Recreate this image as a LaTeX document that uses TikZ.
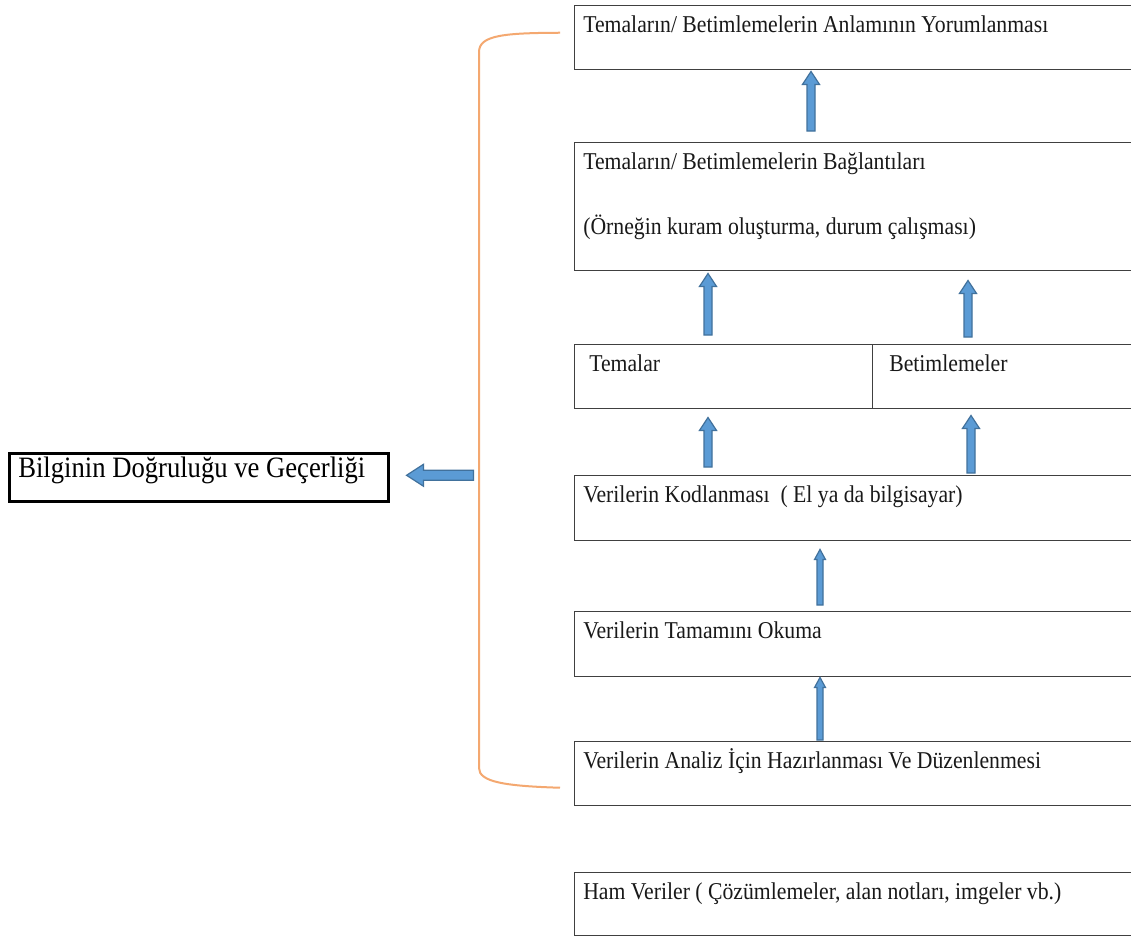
\documentclass[tikz,border=0pt]{standalone}
\usepackage{fontspec}
\setmainfont{Liberation Serif}[FakeStretch=0.9]
\usetikzlibrary{calc}
\definecolor{afill}{HTML}{5B9BD5}
\definecolor{aedge}{HTML}{41719C}
\definecolor{brk}{RGB}{244,168,112}
\definecolor{bedge}{HTML}{404040}
% vertical block arrow: #1 tail, #2 tip, #3 half shaft, #4 half head, #5 head length
\newcommand\blkup[5]{\draw[blk] let \p1=#1, \p2=#2 in
  (\x1-#3,\y1) -- (\x1-#3,\y2-#5) -- (\x1-#4,\y2-#5) -- (\x1,\y2) --
  (\x1+#4,\y2-#5) -- (\x1+#3,\y2-#5) -- (\x1+#3,\y1) -- cycle;}
% horizontal block arrow pointing left
\newcommand\blkleft[5]{\draw[blk] let \p1=#1, \p2=#2 in
  (\x1,\y1-#3) -- (\x2+#5,\y1-#3) -- (\x2+#5,\y1-#4) -- (\x2,\y1) --
  (\x2+#5,\y1+#4) -- (\x2+#5,\y1+#3) -- (\x1,\y1+#3) -- cycle;}
\tikzset{
  rbox/.style 2 args={draw=bedge, line width=1.1pt, anchor=north west, inner sep=0pt,
    minimum width=#1*0.75pt, minimum height=#2*0.75pt},
  lbox/.style 2 args={draw=black, line width=1.9pt, anchor=north west, inner sep=0pt,
    minimum width=#1*0.75pt, minimum height=#2*0.75pt},
  txt/.style={anchor=base west, inner sep=0pt, font=\fontsize{18.1}{21}\selectfont, text=black!90},
  ltxt/.style={anchor=base west, inner sep=0pt, font=\fontsize{22.2}{26}\selectfont},
  blk/.style={fill=afill, draw=aedge, line width=0.9pt, line join=miter},
  brace/.style={draw=brk, line width=1.5pt}
}
\begin{document}
\begin{tikzpicture}[x=0.75pt,y=-0.75pt]
\useasboundingbox (0,0) rectangle (1131,940);
\clip (0,0) rectangle (1131,940);
\fill[white] (0,0) rectangle (1131,940);

% boxes
\node[rbox={562}{64}] (b1) at (574,5) {};
\node[rbox={562}{128}] (b2) at (574,142) {};
\node[rbox={298}{64}] (b3a) at (574,344) {};
\node[rbox={264}{64}] (b3b) at (872,344) {};
\node[rbox={562}{65}] (b4) at (574,475) {};
\node[rbox={562}{65}] (b5) at (574,611) {};
\node[rbox={562}{64}] (b6) at (574,741) {};
\node[rbox={562}{63}] (b7) at (574,872) {};
\node[lbox={379}{48}] (lb) at (8,452) {};

% texts
\node[txt] (t1) at ($(b1.north west)+(9,27)$) {Temaların/ Betimlemelerin Anlamının Yorumlanması};
\node[txt] (t2) at ($(b2.north west)+(9,27)$) {Temaların/ Betimlemelerin Bağlantıları};
\node[txt] (t2b) at ($(b2.north west)+(9,92)$) {(Örneğin kuram oluşturma, durum çalışması)};
\node[txt] (t3a) at ($(b3a.north west)+(15,27)$) {Temalar};
\node[txt] (t3b) at ($(b3b.north west)+(17,27)$) {Betimlemeler};
\node[txt] (t4) at ($(b4.north west)+(9,27)$) {Verilerin Kodlanması \ ( El ya da bilgisayar)};
\node[txt] (t5) at ($(b5.north west)+(9,27)$) {Verilerin Tamamını Okuma};
\node[txt] (t6) at ($(b6.north west)+(9,27)$) {Verilerin Analiz İçin Hazırlanması Ve Düzenlenmesi};
\node[txt] (t7) at ($(b7.north west)+(9,27)$) {Ham Veriler ( Çözümlemeler, alan notları, imgeler vb.)};
\node[ltxt] (tl) at ($(lb.north west)+(10,25)$) {Bilginin Doğruluğu ve Geçerliği};

% vertical arrows
\blkup{($(b2.north west)+(237,-11)$)}{($(b1.south west)+(237,1)$)}{3pt}{6.4pt}{9.75pt}
\blkup{($(b3a.north west)+(134,-9)$)}{($(b2.south west)+(134,2)$)}{3pt}{6.4pt}{9.75pt}
\blkup{($(b3b.north west)+(96,-7)$)}{($(b2.south west)+(394,9)$)}{3pt}{6.4pt}{9.75pt}
\blkup{($(b4.north west)+(134,-8)$)}{($(b3a.south west)+(134,8)$)}{3pt}{6.4pt}{9.75pt}
\blkup{($(b4.north west)+(397,-2)$)}{($(b3b.south west)+(99,6)$)}{3pt}{6.4pt}{9.75pt}
\blkup{($(b5.north west)+(246,-6)$)}{($(b4.south west)+(246,8)$)}{2.25pt}{4.1pt}{7.5pt}
\blkup{($(b6.north west)+(246,-1)$)}{($(b5.south west)+(246,0)$)}{2.25pt}{4.1pt}{7.5pt}

% left arrow
\coordinate (lt) at ($(lb.east)+(84,-2)$);
\blkleft{(lt)}{($(lb.east)+(17,-2)$)}{3.75pt}{8.25pt}{12.75pt}

% bracket
\coordinate (bt) at ($(b1.west)+(-14,-5)$);
\coordinate (bb) at ($(b6.west)+(-14,14)$);
\draw[brace] (bt) .. controls (505,33) and (479,35) .. (479,52) -- (479,768)
  .. controls (479,782) and (505,786) .. (bb);
\end{tikzpicture}
\end{document}
